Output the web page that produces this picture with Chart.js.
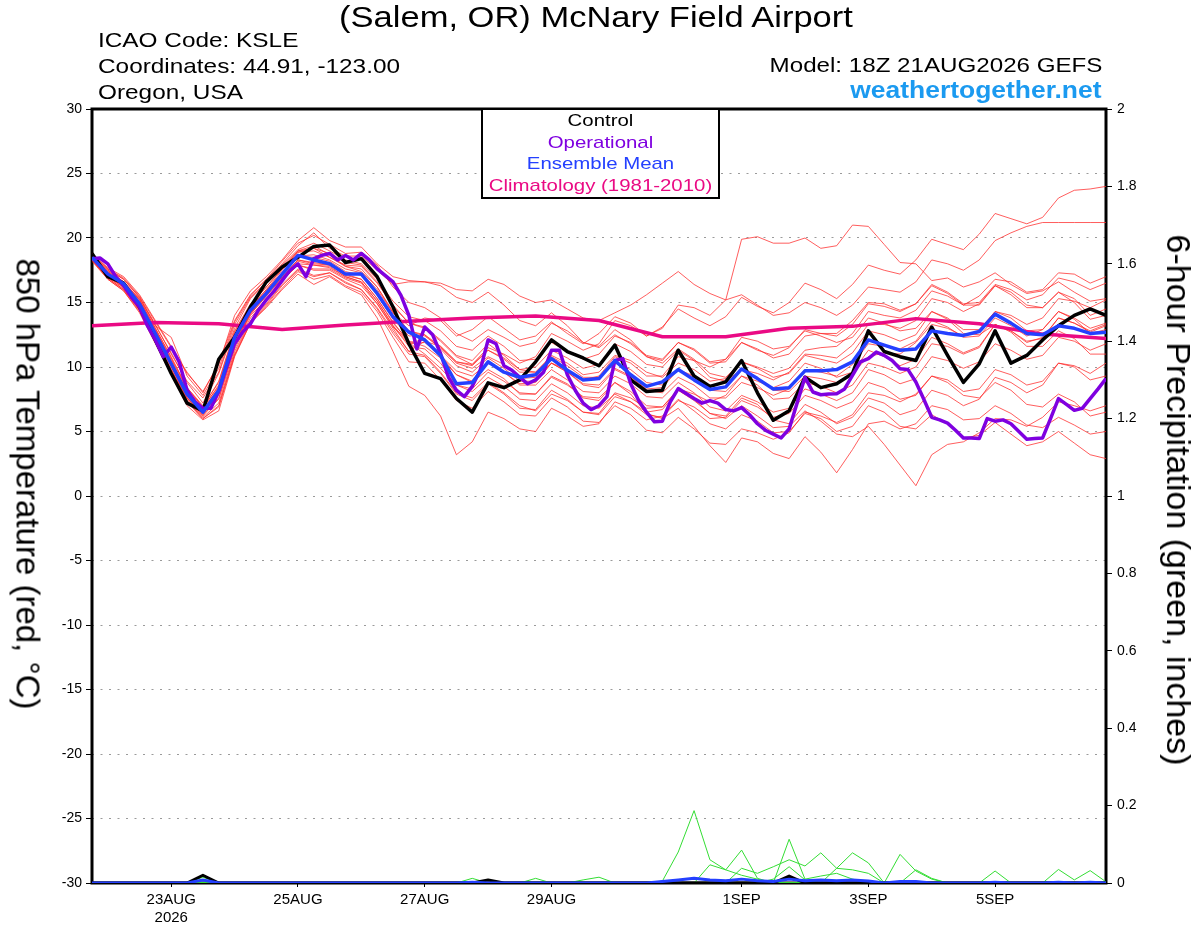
<!DOCTYPE html>
<html>
<head>
<meta charset="utf-8">
<title>KSLE GEFS 850 hPa temperature</title>
<script src="https://cdn.jsdelivr.net/npm/chart.js@4/dist/chart.umd.min.js"></script>
<style>
  body { margin: 0; background: #fff; font-family: "Liberation Sans", Arial, Helvetica, sans-serif; }
  #wrap { position: relative; width: 1200px; height: 927px; overflow: hidden; }
  canvas { position: absolute; left: 0; top: 0; }
  .txt { position: absolute; white-space: nowrap; line-height: 1; color: #000; }
  #title { left: 596px; top: 2px; font-size: 30px; transform: translateX(-50%) scaleX(1.15); }
  .info { left: 98px; font-size: 21px; transform: scaleX(1.16); transform-origin: left center; }
  .right { right: 98px; text-align: right; transform: scaleX(1.15); transform-origin: right center; }
  #site { font-size: 23px; font-weight: bold; color: #1b9af0; }
  #legend { position: absolute; left: 481px; top: 108px; width: 235px; height: 87px;
            border: 2px solid #000; background: #fff; text-align: center;
            font-size: 17px; line-height: 21.5px; }
  #legend div { transform: scaleX(1.2); }
  .ytitle { position: absolute; white-space: nowrap; line-height: 1; color: #000;
            transform: translate(-50%, -50%) rotate(90deg); }
</style>
</head>
<body>
<div id="wrap">
  <canvas id="chart" width="1200" height="927"></canvas>
  <div class="txt" id="title">(Salem, OR) McNary Field Airport</div>
  <div class="txt info" style="top:29px">ICAO Code: KSLE</div>
  <div class="txt info" style="top:55px">Coordinates: 44.91, -123.00</div>
  <div class="txt info" style="top:81px">Oregon, USA</div>
  <div class="txt right" style="top:54px;font-size:21px">Model: 18Z 21AUG2026 GEFS</div>
  <div class="txt right" id="site" style="top:79px">weathertogether.net</div>
  <div id="legend">
    <div style="color:#000">Control</div>
    <div style="color:#7f00e0">Operational</div>
    <div style="color:#2440ff">Ensemble Mean</div>
    <div style="color:#ea0a84">Climatology (1981-2010)</div>
  </div>
  <div class="ytitle" style="left:28px;top:484px;font-size:33px">850 hPa Temperature (red, °C)</div>
  <div class="ytitle" style="left:1179px;top:500px;font-size:34px">6-hour Precipitation (green, inches)</div>
</div>
<script>
// forecast hours start at 18Z 21AUG2026, GEFS every 6 h, operational every 3 h, climatology daily
const stepHours = 6
const opStepHours = 3
const climStepHours = 24

const tickHours = [30, 78, 126, 174, 246, 294, 342]
const tickLabels = ['23AUG', '25AUG', '27AUG', '29AUG', '1SEP', '3SEP', '5SEP']
const yearLabel = '2026'

// 850 hPa temperature (C)
const control = [18.8, 17.0, 16.5, 14.65, 12.1, 9.5, 7.2, 6.6, 10.6, 12.3,
  14.65, 16.6, 17.75, 18.5, 19.35, 19.45, 18.1, 18.4, 17.0, 14.65,
  11.8, 9.5, 9.1, 7.56, 6.5, 8.77, 8.4, 9.0, 10.4, 12.1,
  11.2, 10.7, 10.1, 11.7, 9.0, 8.1, 8.2, 11.3, 9.3, 8.5,
  8.85, 10.5, 8.0, 5.87, 6.6, 9.2, 8.4, 8.7, 9.5, 12.8,
  11.2, 10.8, 10.5, 13.1, 10.9, 8.8, 10.25, 12.8, 10.3, 10.9,
  12.1, 13.2, 14.0, 14.5, 14.0]

const ensMean = [18.5, 17.2, 16.45, 14.9, 12.6, 10.25, 7.9, 6.5, 8.2, 12.3,
  14.4, 15.7, 17.2, 18.65, 18.3, 18.0, 17.2, 17.2, 15.7, 13.9,
  12.7, 12.1, 10.9, 8.7, 8.8, 10.4, 9.6, 9.2, 9.4, 10.65,
  9.75, 9.0, 9.1, 10.5, 9.4, 8.5, 8.85, 9.8, 9.0, 8.26,
  8.46, 9.85, 9.1, 8.3, 8.4, 9.7, 9.7, 9.8, 10.4, 12.1,
  11.7, 11.3, 11.4, 12.8, 12.6, 12.45, 12.75, 14.1, 13.4, 12.6,
  12.5, 13.2, 13.0, 12.6, 12.7]

const operational = [18.4, 18.45, 18.0, 17.0, 16.3, 15.4, 14.65, 13.2, 12.1, 10.8,
  11.55, 10.4, 8.2, 7.3, 6.8, 6.8, 8.1, 10.0, 11.8, 12.7,
  13.35, 14.4, 15.2, 15.9, 16.7, 17.5, 18.0, 17.0, 18.4, 18.65,
  18.8, 18.3, 18.65, 18.3, 18.8, 18.3, 17.6, 17.1, 16.6, 15.55,
  14.0, 11.4, 13.1, 12.5, 11.05, 9.2, 8.2, 7.7, 8.5, 9.75,
  12.1, 11.8, 10.1, 9.75, 9.2, 8.7, 9.0, 9.6, 11.3, 11.3,
  9.4, 8.2, 7.2, 6.7, 7.0, 7.7, 10.5, 10.65, 8.7, 7.4,
  6.5, 5.75, 5.8, 7.3, 8.33, 7.95, 7.56, 7.2, 7.4, 7.2,
  6.7, 6.6, 6.85, 6.3, 5.6, 5.1, 4.8, 4.5, 5.2, 7.2,
  9.2, 8.06, 7.85, 7.9, 7.93, 8.3, 9.35, 10.4, 10.65, 11.16,
  10.9, 10.5, 9.87, 9.8, 8.84, 7.5, 6.1, 5.9, 5.65, 5.1,
  4.5, 4.5, 4.45, 6.0, 5.8, 5.9, 5.6, 5.0, 4.4, 4.45,
  4.5, 6.0, 7.55, 7.1, 6.64, 6.8, 7.55, 8.3, 9.1]

const climatology = [13.2, 13.45, 13.35, 12.9, 13.25, 13.55, 13.8, 13.95, 13.6,
  12.35, 12.35, 13.0, 13.15, 13.75, 13.35, 12.55, 12.2]

// ensemble members (red)
const mem01 = [18.6, 17.5, 16.6, 15.3, 13.2, 11.1, 8.8, 7.2, 9.5, 13.0, 15.3, 16.5, 17.8, 19.0, 19.4, 18.7, 17.8, 17.4, 16.2, 14.2, 13.2,
  13.8, 13.6, 12.4, 12.9, 13.9, 13.0, 12.1, 12.4, 13.5, 12.6, 11.8, 12.6, 13.9, 13.4, 12.4, 13.1, 14.5, 13.8, 13.2, 13.9, 15.4, 14.7, 14.2, 15.0, 16.5, 16.0, 15.3, 16.4, 17.9, 17.5, 17.2, 18.3, 19.9, 19.5, 19.1, 20.3, 21.9, 21.5, 21.1, 21.6, 23.1, 23.7, 23.8, 24.0]
const mem02 = [18.3, 16.9, 16.0, 14.4, 12.0, 9.6, 7.3, 6.0, 7.0, 11.0, 13.5, 14.8, 16.3, 17.5, 17.0, 17.3, 16.6, 16.0, 14.6, 12.8, 11.2,
  12.0, 11.6, 10.4, 10.2, 11.5, 11.0, 10.3, 10.8, 12.6, 12.0, 11.3, 11.8, 13.6, 13.2, 12.4, 13.0, 14.8, 14.6, 14.0, 15.2, 19.9, 20.1, 19.6, 19.6, 20.0, 19.2, 19.4, 21.0, 20.9, 19.5, 18.1, 18.0, 16.7, 16.9, 16.2, 16.6, 17.3, 16.4, 15.7, 15.9, 16.6, 15.8, 15.1, 15.3]
const mem03 = [18.7, 17.6, 16.9, 15.5, 13.5, 11.5, 9.6, 8.0, 10.3, 13.6, 15.6, 16.8, 18.0, 19.4, 20.4, 19.2, 18.6, 18.6, 17.5, 16.4, 16.6,
  16.6, 16.5, 16.0, 15.9, 16.8, 16.4, 15.5, 15.0, 15.2, 14.5, 13.8, 13.6, 14.2, 14.8, 15.6, 16.5, 17.4, 16.4, 15.7, 15.2, 15.6, 14.8, 14.0, 14.2, 15.0, 14.6, 14.0, 14.8, 16.2, 16.0, 15.8, 16.6, 18.3, 18.0, 17.5, 18.3, 19.8, 20.4, 20.9, 21.2, 21.2, 21.2, 21.2, 21.2]
const mem04 = [18.3, 16.8, 15.9, 14.2, 11.8, 9.4, 7.0, 5.9, 6.6, 10.8, 13.4, 14.6, 16.0, 17.2, 16.4, 17.0, 16.2, 15.6, 13.8, 11.2, 8.5,
  7.8, 6.2, 3.2, 4.2, 6.5, 6.0, 5.2, 5.0, 6.8, 6.2, 5.4, 5.6, 7.3, 6.8, 5.9, 6.2, 7.5, 6.6, 5.6, 5.2, 6.3, 5.8, 4.9, 5.0, 6.4, 6.0, 5.0, 5.4, 7.0, 6.5, 5.4, 5.2, 6.3, 5.6, 4.5, 4.7, 5.7, 4.8, 3.9, 4.2, 5.0, 4.1, 3.2, 2.9]
const mem05 = [18.4, 17.0, 16.2, 14.6, 12.2, 9.8, 7.5, 6.2, 7.6, 11.6, 14.0, 15.2, 16.7, 17.9, 17.6, 17.6, 16.9, 16.5, 14.9, 13.0, 11.2,
  10.9, 9.6, 8.0, 7.6, 8.8, 8.0, 7.0, 6.6, 7.9, 7.4, 6.5, 6.4, 8.0, 7.6, 6.8, 6.9, 8.2, 7.4, 6.4, 6.0, 7.0, 6.2, 5.3, 5.4, 6.6, 5.8, 4.8, 4.6, 5.4, 4.0, 2.4, 0.8, 3.2, 4.0, 4.2, 4.9, 6.0, 5.9, 5.4, 6.1, 7.3, 7.0, 6.6, 7.0]
const mem06 = [18.5, 17.1, 16.3, 14.7, 12.4, 10.0, 7.6, 6.3, 7.9, 11.8, 14.1, 15.5, 16.9, 18.0, 17.9, 17.7, 17.0, 16.6, 15.1, 13.2, 11.6,
  11.4, 10.3, 8.6, 8.3, 9.6, 8.9, 8.0, 7.9, 9.2, 8.6, 7.7, 7.6, 8.8, 7.9, 6.4, 6.0, 6.8, 5.4, 3.9, 2.6, 4.5, 4.2, 3.3, 2.9, 4.6, 3.4, 1.8, 3.6, 5.6, 5.8, 5.2, 5.6, 7.0, 6.7, 5.9, 6.0, 7.0, 6.4, 5.5, 5.3, 6.1, 5.5, 4.8, 5.0]
const mem07 = [18.6, 17.4, 16.6, 15.2, 13.0, 10.8, 8.4, 6.9, 8.9, 12.8, 14.9, 16.2, 17.6, 18.9, 19.0, 18.5, 17.8, 17.6, 16.2, 14.3, 12.8,
  12.4, 11.5, 10.3, 9.9, 10.8, 10.2, 9.1, 9.2, 10.3, 9.6, 8.7, 8.6, 9.9, 9.3, 8.2, 8.0, 9.2, 8.6, 7.6, 7.6, 8.8, 8.4, 7.8, 8.3, 9.8, 9.6, 9.3, 10.2, 11.8, 11.6, 11.4, 12.0, 13.6, 13.1, 12.3, 12.4, 13.8, 13.2, 12.4, 12.9, 14.3, 13.8, 13.0, 13.4]
const mem08 = [18.4, 17.1, 16.3, 14.8, 12.5, 10.4, 8.2, 6.8, 8.6, 12.5, 14.6, 16.0, 17.5, 18.9, 19.2, 18.5, 17.9, 17.8, 16.5, 14.8, 13.4,
  13.0, 12.0, 10.8, 10.2, 11.3, 10.6, 9.6, 9.6, 10.9, 10.3, 9.4, 9.6, 10.9, 10.5, 9.6, 9.2, 10.3, 9.8, 8.9, 9.1, 10.4, 10.0, 9.5, 9.9, 11.3, 11.5, 11.6, 12.6, 14.3, 14.0, 13.8, 14.4, 15.9, 15.5, 14.8, 15.5, 16.8, 16.6, 15.8, 16.0, 17.3, 17.2, 16.5, 17.0]
const mem09 = [18.7, 17.5, 16.8, 15.4, 13.3, 11.0, 8.9, 7.6, 9.6, 13.3, 15.4, 16.6, 17.9, 19.1, 19.6, 19.0, 18.3, 18.0, 16.8, 15.1, 13.9,
  13.6, 12.8, 11.6, 11.3, 12.4, 11.6, 10.5, 10.6, 11.9, 11.2, 10.6, 11.0, 12.4, 11.9, 10.9, 10.6, 11.9, 11.4, 10.4, 10.6, 11.9, 11.3, 10.9, 11.5, 12.9, 12.6, 12.4, 13.3, 14.9, 14.7, 14.3, 14.9, 16.4, 15.8, 14.9, 15.0, 16.4, 16.0, 15.2, 15.6, 16.9, 16.6, 16.0, 16.5]
const mem10 = [18.3, 17.0, 16.1, 14.5, 12.1, 9.8, 7.6, 6.3, 7.5, 11.4, 13.8, 15.2, 16.7, 17.9, 17.5, 17.5, 16.8, 16.3, 14.9, 13.1, 11.8,
  11.9, 10.9, 9.7, 9.3, 10.3, 9.6, 8.6, 8.6, 9.8, 9.0, 8.1, 8.0, 9.3, 8.7, 7.7, 7.6, 8.8, 8.0, 6.9, 6.6, 7.8, 7.3, 6.5, 6.8, 8.3, 7.9, 7.4, 8.0, 9.8, 9.4, 8.7, 9.1, 10.8, 10.5, 9.9, 10.4, 11.8, 11.3, 10.6, 10.9, 12.3, 12.0, 11.3, 11.8]
const mem11 = [18.5, 17.3, 16.5, 15.0, 12.8, 10.6, 8.3, 6.9, 8.5, 12.0, 14.2, 15.6, 17.0, 18.3, 18.0, 17.9, 17.2, 16.8, 15.3, 13.5, 11.9,
  11.0, 9.9, 8.6, 8.1, 9.2, 8.5, 7.5, 7.4, 8.7, 8.0, 7.0, 6.8, 7.9, 7.3, 6.3, 6.1, 7.4, 6.9, 6.0, 6.1, 7.4, 6.9, 6.1, 6.4, 7.8, 7.4, 6.8, 7.3, 8.8, 8.4, 7.5, 7.8, 9.3, 9.0, 8.1, 8.3, 9.8, 9.4, 8.6, 8.9, 10.3, 10.0, 9.0, 9.3]
const mem12 = [18.6, 17.3, 16.5, 15.1, 12.9, 10.5, 8.1, 6.7, 8.4, 12.4, 14.6, 16.0, 17.3, 18.6, 18.7, 18.3, 17.6, 17.3, 16.0, 14.2, 12.8,
  12.5, 11.6, 10.4, 10.1, 11.3, 10.7, 9.8, 10.0, 11.3, 10.7, 9.9, 10.2, 11.8, 11.2, 10.2, 10.0, 11.3, 10.5, 9.2, 8.9, 9.8, 9.2, 8.2, 8.1, 9.3, 9.1, 8.8, 9.5, 10.8, 11.1, 11.0, 11.9, 13.3, 13.0, 12.4, 12.8, 14.3, 14.0, 13.3, 13.8, 15.3, 15.1, 14.6, 15.2]
const mem13 = [18.4, 17.1, 16.3, 14.7, 12.4, 10.1, 7.8, 6.4, 8.0, 11.9, 14.2, 15.6, 17.0, 18.3, 18.1, 17.9, 17.1, 16.8, 15.3, 13.4, 12.0,
  11.6, 10.7, 9.4, 8.9, 10.3, 9.6, 8.7, 8.8, 10.3, 9.6, 8.6, 8.4, 9.8, 9.2, 8.3, 8.4, 9.8, 9.2, 8.2, 8.1, 9.3, 8.6, 7.5, 7.6, 8.8, 8.5, 8.0, 8.6, 10.3, 10.0, 9.5, 10.0, 11.8, 11.6, 11.0, 11.5, 13.3, 12.8, 12.0, 12.2, 13.8, 13.4, 12.7, 13.2]
const mem14 = [18.8, 17.6, 16.8, 15.4, 13.2, 12.3, 9.3, 7.8, 9.9, 13.5, 15.5, 16.8, 18.2, 19.6, 20.2, 19.5, 18.8, 18.9, 17.9, 16.2, 15.0,
  14.6, 13.8, 12.6, 12.0, 12.9, 12.3, 11.6, 11.9, 13.4, 12.8, 11.9, 11.6, 12.9, 12.1, 10.8, 10.3, 11.4, 10.6, 9.5, 9.2, 10.4, 9.9, 9.2, 9.5, 10.9, 10.6, 10.3, 11.1, 12.8, 12.5, 12.0, 12.5, 14.3, 13.8, 12.9, 12.9, 14.3, 13.8, 12.8, 12.9, 14.3, 13.7, 12.6, 12.9]
const mem15 = [18.2, 16.8, 15.9, 14.3, 11.9, 9.6, 7.3, 6.0, 6.9, 10.9, 13.4, 14.7, 16.1, 17.4, 16.8, 17.1, 16.3, 15.8, 14.3, 12.3, 10.4,
  10.3, 9.0, 7.4, 6.8, 8.1, 7.3, 6.3, 6.2, 7.6, 6.9, 5.8, 5.7, 7.0, 6.3, 5.1, 4.9, 6.1, 5.2, 4.1, 4.0, 5.2, 4.9, 4.4, 4.9, 6.5, 6.2, 5.7, 6.3, 8.0, 7.8, 7.3, 7.9, 9.3, 8.8, 7.8, 7.6, 8.8, 8.2, 7.1, 6.9, 7.9, 7.3, 6.2, 6.5]
const mem16 = [18.5, 17.2, 16.4, 14.9, 12.6, 10.3, 8.0, 6.6, 8.2, 12.2, 14.5, 15.9, 17.3, 18.6, 18.5, 18.2, 17.4, 17.1, 15.6, 13.7, 12.4,
  12.5, 11.4, 10.1, 9.6, 10.7, 9.9, 8.9, 8.9, 10.3, 9.8, 9.0, 9.3, 10.8, 10.3, 9.3, 9.3, 10.8, 10.5, 10.0, 10.6, 12.3, 12.0, 11.4, 11.6, 12.8, 12.4, 11.9, 12.3, 13.8, 13.4, 12.8, 13.0, 14.3, 13.7, 12.6, 12.5, 13.3, 12.7, 11.6, 11.6, 12.8, 12.2, 11.0, 11.0]
const mem17 = [18.4, 17.0, 16.2, 14.6, 12.3, 10.0, 7.7, 6.4, 7.9, 11.8, 14.1, 15.5, 16.9, 18.2, 17.9, 17.8, 17.0, 16.6, 15.1, 13.2, 11.9,
  12.1, 10.9, 9.4, 8.8, 9.8, 9.1, 7.9, 7.9, 9.3, 8.7, 7.6, 7.4, 8.8, 8.1, 7.0, 6.9, 8.3, 7.9, 7.3, 7.8, 9.3, 8.9, 8.4, 8.9, 10.3, 9.9, 9.2, 9.6, 11.3, 10.8, 10.1, 10.6, 12.3, 11.8, 11.1, 11.6, 13.3, 12.8, 11.9, 12.3, 13.8, 13.4, 12.8, 13.3]
const mem18 = [18.6, 17.4, 16.6, 15.2, 13.0, 10.7, 8.4, 7.0, 8.8, 12.7, 14.8, 16.2, 17.6, 19.0, 19.2, 18.8, 18.1, 17.9, 16.6, 14.7, 13.4,
  13.1, 12.1, 10.9, 10.5, 11.8, 10.9, 9.8, 9.6, 10.8, 10.1, 9.2, 9.2, 10.3, 9.8, 8.8, 8.6, 9.8, 9.3, 8.3, 8.5, 9.8, 9.5, 9.0, 9.6, 11.0, 10.9, 10.7, 11.7, 13.3, 13.3, 13.0, 13.6, 15.3, 15.0, 14.3, 14.9, 16.3, 15.6, 14.6, 14.6, 15.8, 15.0, 13.7, 14.0]
const mem19 = [18.3, 16.9, 16.0, 14.4, 12.0, 9.7, 7.4, 6.1, 7.2, 11.2, 13.6, 14.9, 16.4, 17.6, 17.1, 17.3, 16.5, 16.0, 14.5, 12.6, 11.0,
  10.8, 9.5, 7.9, 7.4, 8.7, 7.9, 6.8, 6.7, 8.2, 7.5, 6.5, 6.3, 7.7, 7.3, 6.5, 6.7, 8.2, 7.5, 6.4, 6.2, 7.6, 7.1, 5.9, 5.6, 7.1, 6.5, 5.6, 6.1, 7.6, 7.2, 6.3, 6.7, 8.2, 7.8, 7.0, 7.5, 9.2, 8.8, 8.0, 8.6, 10.3, 10.1, 9.5, 10.3]
const mem20 = [18.8, 17.7, 17.0, 15.6, 13.6, 11.6, 9.5, 8.1, 10.2, 14.0, 15.9, 17.0, 18.3, 19.8, 20.8, 19.8, 19.3, 19.3, 18.0, 17.0, 16.7,
  16.6, 16.3, 15.4, 15.0, 15.8, 14.8, 13.6, 13.2, 14.2, 13.2, 11.9, 11.5, 12.5, 11.8, 10.8, 10.5, 11.9, 11.3, 10.3, 10.4, 11.9, 11.4, 10.7, 11.0, 12.4, 12.6, 12.6, 13.6, 15.0, 14.9, 14.4, 14.9, 16.3, 15.7, 14.8, 14.8, 16.3, 15.8, 14.8, 14.6, 15.8, 15.3, 14.0, 14.5]
const members = [mem01, mem02, mem03, mem04, mem05, mem06, mem07, mem08, mem09, mem10,
  mem11, mem12, mem13, mem14, mem15, mem16, mem17, mem18, mem19, mem20]

// 6-hour precipitation (inches), only the members that had rain
const pcpControl = [0, 0, 0, 0, 0, 0, 0, 0.02, 0, 0,  0, 0, 0, 0, 0, 0, 0, 0, 0, 0,
  0, 0, 0, 0, 0, 0.008, 0, 0, 0, 0,  0, 0, 0, 0, 0, 0, 0, 0, 0, 0,
  0, 0, 0, 0, 0.018, 0, 0, 0, 0, 0,  0, 0, 0, 0, 0, 0, 0, 0, 0, 0,  0, 0, 0, 0, 0]
const pcpMean = [0, 0, 0, 0, 0, 0, 0, 0.008, 0, 0,  0, 0, 0, 0, 0, 0, 0, 0, 0, 0,
  0, 0, 0, 0, 0.002, 0, 0, 0, 0, 0,  0, 0, 0, 0, 0, 0, 0.004, 0.008, 0.012, 0.008,
  0.006, 0.01, 0.006, 0.004, 0.01, 0.006, 0.008, 0.006, 0.008, 0.005,  0, 0.004, 0.004, 0, 0, 0, 0, 0.002, 0, 0,  0, 0.002, 0, 0.002, 0]
const pcp01 = [0, 0, 0, 0, 0, 0, 0, 0.015, 0, 0,  0, 0, 0, 0, 0, 0, 0, 0, 0, 0,
  0, 0, 0, 0, 0, 0, 0, 0, 0, 0,  0, 0, 0, 0, 0, 0, 0.005, 0.08, 0.187, 0.06,
  0.034, 0.02, 0.01, 0, 0, 0, 0, 0, 0, 0,  0, 0, 0, 0, 0, 0, 0, 0, 0, 0,  0, 0, 0, 0, 0]
const pcp02 = [0, 0, 0, 0, 0, 0, 0, 0, 0, 0,  0, 0, 0, 0, 0, 0, 0, 0, 0, 0,
  0, 0, 0, 0, 0, 0, 0, 0, 0, 0,  0, 0, 0, 0, 0, 0, 0, 0, 0, 0.047,
  0.034, 0.085, 0.012, 0, 0, 0, 0, 0, 0, 0,  0, 0, 0, 0, 0, 0, 0, 0, 0, 0,  0, 0, 0, 0, 0]
const pcp03 = [0, 0, 0, 0, 0, 0, 0, 0, 0, 0,  0, 0, 0, 0, 0, 0, 0, 0, 0, 0,
  0, 0, 0, 0, 0, 0, 0, 0, 0, 0,  0, 0, 0, 0, 0, 0, 0, 0, 0, 0,
  0, 0.038, 0.025, 0.042, 0.06, 0.044, 0.078, 0.038, 0.078, 0.052,  0, 0, 0, 0, 0, 0, 0, 0, 0, 0,  0, 0, 0, 0, 0]
const pcp04 = [0, 0, 0, 0, 0, 0, 0, 0, 0, 0,  0, 0, 0, 0, 0, 0, 0, 0, 0, 0,
  0, 0, 0, 0, 0, 0, 0, 0, 0, 0,  0, 0, 0, 0, 0, 0, 0, 0, 0, 0,
  0, 0, 0, 0, 0.113, 0.01, 0.018, 0.025, 0.01, 0,  0, 0, 0, 0, 0, 0, 0, 0, 0, 0,  0, 0, 0, 0, 0]
const pcp05 = [0, 0, 0, 0, 0, 0, 0, 0, 0, 0,  0, 0, 0, 0, 0, 0, 0, 0, 0, 0,
  0, 0, 0, 0, 0, 0, 0, 0, 0, 0,  0, 0, 0, 0, 0, 0, 0, 0, 0, 0,
  0, 0, 0, 0.01, 0.042, 0.008, 0, 0.038, 0.034, 0.025,  0, 0, 0, 0, 0, 0, 0, 0, 0, 0,  0, 0, 0, 0, 0]
const pcp06 = [0, 0, 0, 0, 0, 0, 0, 0, 0, 0,  0, 0, 0, 0, 0, 0, 0, 0, 0, 0,
  0, 0, 0, 0, 0, 0, 0, 0, 0, 0,  0, 0, 0, 0, 0, 0, 0, 0, 0, 0,
  0, 0, 0, 0, 0, 0, 0, 0, 0, 0,  0, 0.074, 0.031, 0.01, 0, 0, 0, 0, 0, 0,  0, 0, 0, 0, 0]
const pcp07 = [0, 0, 0, 0, 0, 0, 0, 0, 0, 0,  0, 0, 0, 0, 0, 0, 0, 0, 0, 0,
  0, 0, 0, 0, 0, 0, 0, 0, 0, 0,  0, 0, 0, 0, 0, 0, 0, 0, 0, 0,
  0, 0, 0, 0, 0, 0, 0, 0, 0, 0,  0, 0, 0.034, 0.012, 0, 0, 0, 0.031, 0, 0,  0, 0.035, 0.008, 0.032, 0.003]
const pcp08 = [0, 0, 0, 0, 0, 0, 0, 0, 0, 0,  0, 0, 0, 0, 0, 0, 0, 0, 0, 0,
  0, 0, 0, 0, 0.012, 0, 0, 0, 0.012, 0,  0, 0.008, 0.015, 0, 0, 0, 0, 0, 0, 0,
  0, 0, 0, 0, 0, 0, 0, 0, 0, 0,  0, 0, 0, 0, 0, 0, 0, 0, 0, 0,  0, 0, 0, 0, 0]
const pcpMembers = [pcp01, pcp02, pcp03, pcp04, pcp05, pcp06, pcp07, pcp08]

function series(vals, step) {
  return vals.map((v, i) => ({x: i * step, y: v}))
}

function line(data, color, width, axis) {
  return {
    data: data, borderColor: color, borderWidth: width, yAxisID: axis || 'y',
    pointRadius: 0, fill: false, tension: 0, borderJoinStyle: 'round'
  }
}

// first dataset ends up on top
const datasets = []
datasets.push(line(series(ensMean, stepHours), '#2440ff', 3.5))
datasets.push(line(series(operational, opStepHours), '#7f00e0', 3.5))
datasets.push(line(series(control, stepHours), '#000', 3.5))
datasets.push(line(series(climatology, climStepHours), '#ea0a84', 3.5))
datasets.push(line(series(pcpMean, stepHours), '#2440ff', 3, 'y2'))
datasets.push(line(series(pcpControl, stepHours), '#000', 3, 'y2'))
pcpMembers.forEach(p => datasets.push(line(series(p, stepHours), '#33dd33', 1, 'y2')))
members.forEach(m => datasets.push(line(series(m, stepHours), 'rgba(255,40,40,0.75)', 1)))

const frame = {
  id: 'frame',
  beforeDatasetsDraw(chart) {
    const a = chart.chartArea
    const c = chart.ctx
    c.save()
    c.lineWidth = 3
    c.strokeStyle = '#000'
    c.strokeRect(a.left, a.top, a.right - a.left, a.bottom - a.top)
    c.restore()
  }
}

const font = '"Liberation Sans", Arial, Helvetica, sans-serif'

new Chart(document.getElementById('chart'), {
  type: 'line',
  data: {datasets: datasets},
  plugins: [frame],
  options: {
    responsive: false,
    animation: false,
    devicePixelRatio: 1,
    layout: {padding: {top: 109, left: 0, right: 0, bottom: 0}},
    plugins: {legend: {display: false}, tooltip: {enabled: false}},
    scales: {
      x: {
        type: 'linear', min: 0, max: 384,
        afterBuildTicks: (s) => { s.ticks = tickHours.map(v => ({value: v})) },
        afterFit: (s) => { s.height = 44 },
        grid: {drawOnChartArea: false, drawTicks: true, tickLength: 4, tickColor: '#000'},
        border: {display: false},
        ticks: {
          autoSkip: false, maxRotation: 0, padding: 3, color: '#000',
          font: {family: font, size: 15, lineHeight: 1.25},
          callback: (v, i) => i === 0 ? [tickLabels[0], yearLabel] : tickLabels[i]
        }
      },
      y: {
        position: 'left', min: -30, max: 30,
        afterFit: (s) => { s.width = 92 },
        grid: {color: '#9a9a9a', lineWidth: 1, tickColor: '#000', tickLength: 6},
        border: {display: false, dash: [2, 6.5]},
        ticks: {stepSize: 5, padding: 4, color: '#000', font: {family: font, size: 14}}
      },
      y2: {
        position: 'right', min: 0, max: 2,
        afterFit: (s) => { s.width = 94 },
        grid: {drawOnChartArea: false, tickColor: '#000', tickLength: 6},
        border: {display: false},
        ticks: {
          stepSize: 0.2, padding: 5, color: '#000', font: {family: font, size: 14},
          callback: (v) => String(Math.round(v * 10) / 10)
        }
      }
    }
  }
})
</script>
</body>
</html>
